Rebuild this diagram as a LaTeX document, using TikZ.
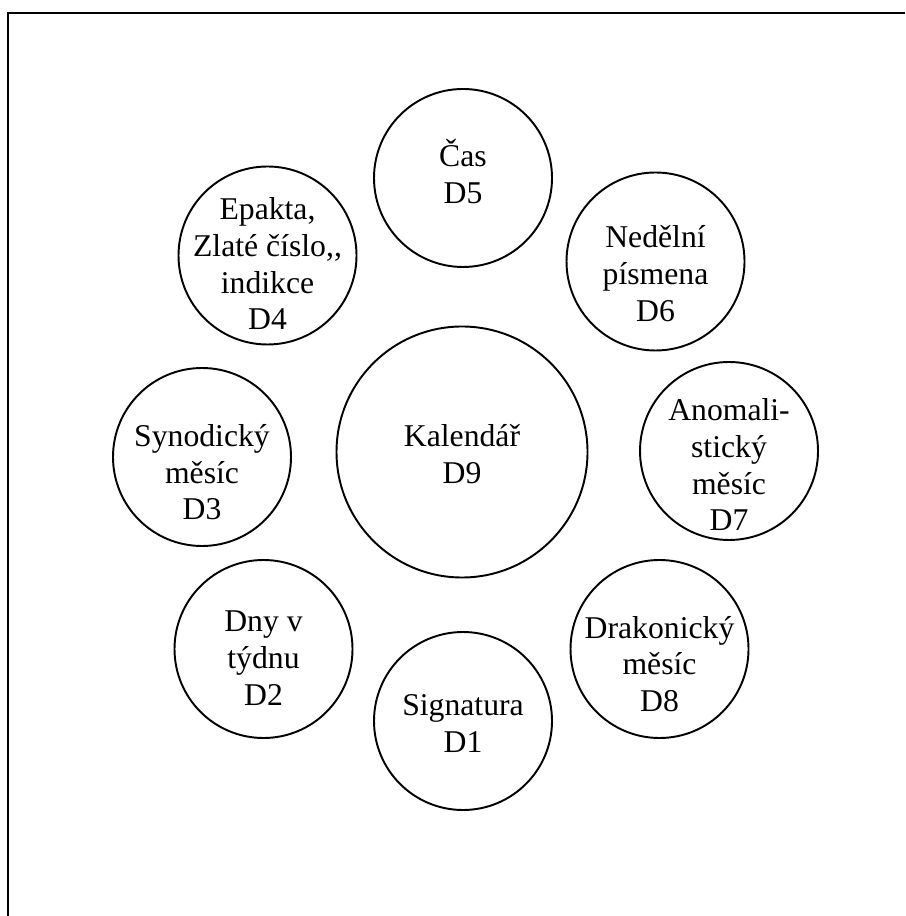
\documentclass[tikz,border=0pt]{standalone}
\usepackage{fontspec}
\setmainfont{Liberation Serif}
\usepackage{tikz}

\begin{document}
\begin{tikzpicture}[
    disc/.style={circle, draw, line width=0.55pt, minimum size=1.78cm, inner sep=0pt},
    txt/.style={align=center, inner sep=0pt, anchor=base, font=\fontsize{9.02}{10.47}\selectfont}]
    \useasboundingbox (0,0) rectangle (9.05,-9.16);
    \draw[line width=0.6pt] (0.083,-9.16) |- (9.05,-0.127);
    % the calendar in the middle
    \node[disc, minimum size=2.51cm] (d9) at (4.62,-4.52) {};
    \node[txt] (t9) at (4.62,-4.833) {Kalendář\\D9};
    % the ring round it
    \foreach \n/\x/\y/\by/\lbl in {
        1/4.63/-7.21/-7.52/{Signatura\\D1},
        2/2.635/-6.49/-7.05/{Dny v\\týdnu\\D2},
        3/2.02/-4.57/-5.20/{Synodický\\měsíc\\D3},
        4/2.675/-2.555/-3.30/{Epakta,\\Zlaté číslo,{},\\indikce\\D4},
        5/4.63/-1.78/-2.033/{Čas\\D5},
        6/6.555/-2.615/-3.215/{Nedělní\\písmena\\D6},
        7/7.29/-4.51/-5.31/{Anomali-\\stický\\měsíc\\D7},
        8/6.595/-6.49/-7.117/{Drakonický\\měsíc\\D8}} {
        \node[disc] (d\n) at (\x,\y) {};
        \node[txt] (t\n) at (\x,\by) {\lbl};
    }
\end{tikzpicture}
\end{document}
